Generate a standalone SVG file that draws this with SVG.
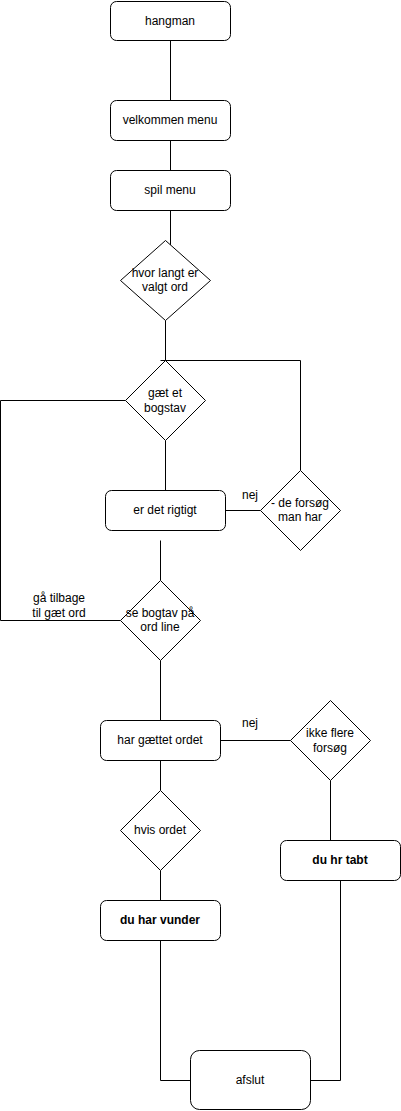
<svg xmlns="http://www.w3.org/2000/svg" width="401" height="1111" viewBox="0 0 401 1111">
<style>
.n{fill:#fff;stroke:#000;stroke-width:1}
.c{fill:none;stroke:#000;stroke-width:1}
text{font-family:"Liberation Sans",Arial,sans-serif;font-size:12px;fill:#000;text-anchor:middle}
.b{font-weight:bold}
</style>
<rect width="401" height="1111" fill="#fff"/>
<g id="connectors">
<path class="c" d="M170.5 40.5V100.5"/>
<path class="c" d="M170.5 140.5V170.5"/>
<path class="c" d="M170.5 210.5V245"/>
<path class="c" d="M165.5 320.5V360.5"/>
<path class="c" d="M160.5 360.5H300.5V470.5"/>
<path class="c" d="M165.5 440.5V490.5"/>
<path class="c" d="M125.5 400.5H0.5V620.5H120.5"/>
<path class="c" d="M225.5 510.5H260.5"/>
<path class="c" d="M160.5 540.5V580.5"/>
<path class="c" d="M160.5 660.5V720.5"/>
<path class="c" d="M220.5 740.5H290.5"/>
<path class="c" d="M330.5 780.5V840.5"/>
<path class="c" d="M160.5 760.5V790.5"/>
<path class="c" d="M160.5 870.5V900.5"/>
<path class="c" d="M160.5 940.5V1080.5H190.5"/>
<path class="c" d="M310.5 1080.5H340.5V880.5"/>
<text x="250" y="499">nej</text>
<text x="250" y="727">nej</text>
<text x="59" y="602">gå tilbage</text>
<text x="59" y="617">til gæt ord</text>
</g>
<g id="hangman"><rect class="n" x="110.5" y="1.5" width="120" height="39" rx="6"/><text x="170" y="25">hangman</text></g>
<g id="velkommen"><rect class="n" x="110.5" y="100.5" width="120" height="40" rx="6"/><text x="170" y="124">velkommen menu</text></g>
<g id="spil"><rect class="n" x="110.5" y="170.5" width="120" height="40" rx="6"/><text x="170" y="194">spil menu</text></g>
<g id="hvorlangt"><path class="n" d="M165.5 240.5L210.5 280.5L165.5 320.5L120.5 280.5Z"/><text x="165" y="277">hvor langt er</text><text x="165" y="291">valgt ord</text></g>
<g id="gaet"><path class="n" d="M165.5 360.5L205.5 400.5L165.5 440.5L125.5 400.5Z"/><text x="165" y="397">gæt et</text><text x="165" y="412">bogstav</text></g>
<g id="rigtigt"><rect class="n" x="105.5" y="490.5" width="120" height="40" rx="6"/><text x="165" y="514">er det rigtigt</text></g>
<g id="forsoeg"><path class="n" d="M300.5 470.5L340.5 510.5L300.5 550.5L260.5 510.5Z"/><text x="300" y="507">- de forsøg</text><text x="300" y="521">man har</text></g>
<g id="sebogtav"><path class="n" d="M160.5 580.5L200.5 620.5L160.5 660.5L120.5 620.5Z"/><text x="160" y="617">se bogtav på</text><text x="160" y="631">ord line</text></g>
<g id="gaettet"><rect class="n" x="100.5" y="720.5" width="120" height="40" rx="6"/><text x="160" y="744">har gættet ordet</text></g>
<g id="ikkeflere"><path class="n" d="M330.5 700.5L370.5 740.5L330.5 780.5L290.5 740.5Z"/><text x="330" y="737">ikke flere</text><text x="330" y="752">forsøg</text></g>
<g id="hvisordet"><path class="n" d="M160.5 790.5L200.5 830.5L160.5 870.5L120.5 830.5Z"/><text x="160" y="834">hvis ordet</text></g>
<g id="tabt"><rect class="n" x="280.5" y="840.5" width="120" height="40" rx="6"/><text class="b" x="340" y="864">du hr tabt</text></g>
<g id="vunder"><rect class="n" x="100.5" y="900.5" width="120" height="40" rx="6"/><text class="b" x="160" y="924">du har vunder</text></g>
<g id="afslut"><rect class="n" x="190.5" y="1050.5" width="120" height="59" rx="9"/><text x="250" y="1084">afslut</text></g>
</svg>
